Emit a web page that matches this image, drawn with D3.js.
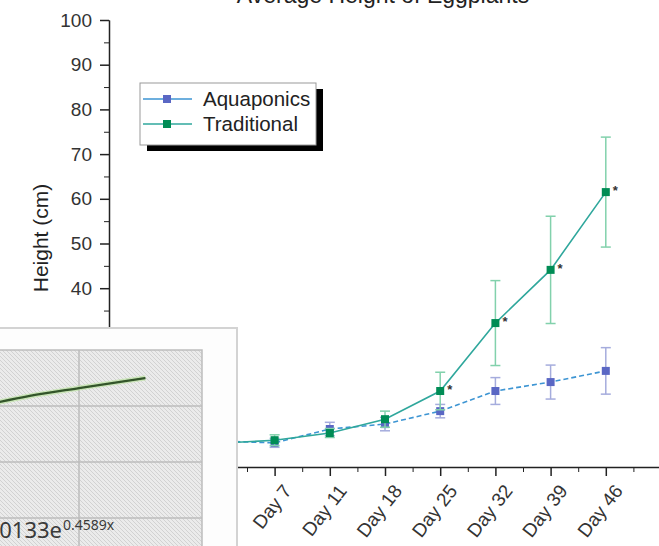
<!DOCTYPE html>
<html lang="en">
<head>
    <meta charset="UTF-8">
    <title>Average Height of Eggplants</title>
    <script src="https://cdn.jsdelivr.net/npm/d3@7"></script>
    <style>
        body {
            margin: 0;
            background-color: white;
            font-family: "Liberation Sans", Arial, sans-serif;
        }
        svg { display: block; }
        .tick text { fill: #333; }
        .axis path, .axis line { stroke: #222; }
    </style>
</head>
<body>
    <svg id="main" width="659" height="546"></svg>

    <script>
        // ---- data ----
        let days = ["Day 4", "Day 7", "Day 11", "Day 18", "Day 25", "Day 32", "Day 39", "Day 46"];
        let dayIndex = [-1, 0, 1, 2, 3, 4, 5, 6];
        let aquaMean = [5.8, 5.4, 8.5, 9.6, 12.5, 17.0, 19.0, 21.5];
        let aquaErr = [0.8, 1.0, 1.5, 1.5, 1.5, 3.0, 3.8, 5.2];
        let tradMean = [5.3, 6.0, 7.6, 10.7, 17.0, 32.2, 44.1, 61.5];
        let tradErr = [0.8, 1.2, 1.0, 1.8, 4.2, 9.5, 12.0, 12.3];
        let signif = ["", "", "", "", "*", "*", "*", "*"];
        let yTicks = [40, 50, 60, 70, 80, 90, 100];

        // pasted excel screenshot on top (trendline part)
        let insetX = [4.2, 4.6, 5.0, 5.54];
        let insetY = [0.300, 0.318, 0.332, 0.350];
        let insetGridX = [5];
        let insetGridY = [0.1, 0.2, 0.3];

        let svg = d3.select("#main");

        let x = d3.scaleLinear().domain([-3, 7]).range([109, 661]);
        let y = d3.scaleLinear().domain([0, 100]).range([467, 20]);

        // title (mostly cut off at the top)
        svg.append("text")
            .attr("x", 383).attr("y", 3)
            .attr("text-anchor", "middle")
            .attr("font-size", 23)
            .attr("fill", "#222")
            .text("Average Height of Eggplants");

        // y axis
        let minorY = d3.range(5, 100, 10);
        svg.append("g").attr("class", "axis")
            .attr("transform", "translate(109,0)")
            .call(d3.axisLeft(y).tickValues(minorY).tickSize(5).tickFormat("").tickSizeOuter(0));
        let yAxis = svg.append("g").attr("class", "axis")
            .attr("transform", "translate(109,0)")
            .call(d3.axisLeft(y).tickValues(d3.range(0, 101, 10)).tickSize(9).tickPadding(8).tickSizeOuter(0)
                .tickFormat(d => yTicks.includes(d) ? d : ""));
        yAxis.selectAll("path").attr("stroke-width", 1.5);
        yAxis.selectAll("line").attr("stroke-width", 1.5);
        yAxis.selectAll("text").attr("font-size", 19).attr("font-family", "Liberation Sans, Arial");

        svg.append("text")
            .attr("transform", "translate(48,238) rotate(-90)")
            .attr("text-anchor", "middle")
            .attr("font-size", 21)
            .attr("fill", "#222")
            .text("Height (cm)");

        // x axis
        let minorX = d3.range(-2.5, 7, 1);
        svg.append("g").attr("class", "axis")
            .attr("transform", "translate(0,467)")
            .call(d3.axisBottom(x).tickValues(minorX).tickSize(5).tickFormat("").tickSizeOuter(0));
        let xAxis = svg.append("g").attr("class", "axis")
            .attr("transform", "translate(0,467)")
            .call(d3.axisBottom(x).tickValues(d3.range(-2, 8)).tickSize(9).tickSizeOuter(0)
                .tickFormat(d => dayIndex.includes(d) ? days[dayIndex.indexOf(d)] : ""));
        xAxis.selectAll("path").attr("stroke-width", 1.5);
        xAxis.selectAll("line").attr("stroke-width", 1.5);
        xAxis.selectAll("text")
            .attr("font-size", 19)
            .attr("text-anchor", "end")
            .attr("dy", "0.7em")
            .attr("transform", "translate(7,16) rotate(-52)")
            .attr("y", 0).attr("x", 0);

        // series
        let series = [
            {name: "Aquaponics", mean: aquaMean, err: aquaErr, line: "#3d95d3", mark: "#5a67c4", errc: "#a5acdd", dash: "5,3"},
            {name: "Traditional", mean: tradMean, err: tradErr, line: "#2fa79c", mark: "#008c55", errc: "#82d1ac", dash: null}
        ];

        series.forEach(function (s) {
            let pts = dayIndex.map((d, i) => ({i: d, v: s.mean[i], e: s.err[i]}));
            let g = svg.append("g");
            // error bars
            let eb = g.selectAll(".eb").data(pts).enter().append("g").attr("stroke", s.errc).attr("stroke-width", 1.5);
            eb.append("line").attr("x1", d => x(d.i)).attr("x2", d => x(d.i))
                .attr("y1", d => y(d.v + d.e)).attr("y2", d => y(d.v - d.e));
            eb.append("line").attr("x1", d => x(d.i) - 5).attr("x2", d => x(d.i) + 5)
                .attr("y1", d => y(d.v + d.e)).attr("y2", d => y(d.v + d.e));
            eb.append("line").attr("x1", d => x(d.i) - 5).attr("x2", d => x(d.i) + 5)
                .attr("y1", d => y(d.v - d.e)).attr("y2", d => y(d.v - d.e));
            // line
            g.append("path")
                .datum(pts)
                .attr("fill", "none")
                .attr("stroke", s.line)
                .attr("stroke-width", 1.6)
                .attr("stroke-dasharray", s.dash)
                .attr("d", d3.line().x(d => x(d.i)).y(d => y(d.v)));
            // markers
            g.selectAll(".m").data(pts).enter().append("rect")
                .attr("x", d => x(d.i) - 4).attr("y", d => y(d.v) - 4)
                .attr("width", 8).attr("height", 8)
                .attr("fill", s.mark);
        });

        // significance stars
        svg.selectAll(".star").data(dayIndex.map((d, i) => ({i: d, v: tradMean[i], s: signif[i]})).filter(d => d.s))
            .enter().append("text")
            .attr("x", d => x(d.i) + 7)
            .attr("y", d => y(d.v) + 3)
            .attr("font-size", 13)
            .attr("font-weight", "bold")
            .attr("fill", "#333")
            .text(d => d.s);

        // legend
        let leg = svg.append("g").attr("transform", "translate(140,83)");
        leg.append("rect").attr("x", 7).attr("y", 6).attr("width", 176).attr("height", 62).attr("fill", "#000");
        leg.append("rect").attr("x", 0).attr("y", 0).attr("width", 176).attr("height", 62)
            .attr("fill", "white").attr("stroke", "#999").attr("stroke-width", 1);
        series.forEach(function (s, i) {
            let ly = 16 + i * 25;
            leg.append("line").attr("x1", 3).attr("x2", 52).attr("y1", ly).attr("y2", ly)
                .attr("stroke", s.line).attr("stroke-width", 1.3);
            leg.append("rect").attr("x", 23).attr("y", ly - 4).attr("width", 8).attr("height", 8).attr("fill", s.mark);
            leg.append("text").attr("x", 63).attr("y", ly).attr("dy", "0.35em")
                .attr("font-size", 20.5).attr("fill", "#222").text(s.name);
        });

        // ---- pasted excel screenshot overlapping the lower left ----
        let defs = svg.append("defs");
        let pat = defs.append("pattern").attr("id", "hatch")
            .attr("patternUnits", "userSpaceOnUse").attr("width", 4).attr("height", 4);
        pat.append("rect").attr("width", 4).attr("height", 4).attr("fill", "#ebebeb");
        pat.append("path").attr("d", "M-1,-1 L5,5 M-1,3 L1,5 M3,-1 L5,1")
            .attr("stroke", "#cfcfcf").attr("stroke-width", 0.9);

        let inset = svg.append("g");
        inset.append("rect").attr("x", -5).attr("y", 328).attr("width", 242).attr("height", 230)
            .attr("fill", "#fdfdfd").attr("stroke", "#d3d3d3").attr("stroke-width", 2);

        let ix = d3.scaleLinear().domain([4, 6]).range([-44, 202]);
        let iy = d3.scaleLinear().domain([0, 0.4]).range([574, 350]);

        inset.append("rect").attr("x", -5).attr("y", iy(0.4)).attr("width", ix(6) + 5).attr("height", 250)
            .attr("fill", "url(#hatch)").attr("stroke", "#bdbdbd").attr("stroke-width", 1.5);
        inset.selectAll(".gx").data(insetGridX).enter().append("line")
            .attr("x1", d => ix(d)).attr("x2", d => ix(d)).attr("y1", iy(0.4)).attr("y2", 560)
            .attr("stroke", "#bdbdbd").attr("stroke-width", 1.5);
        inset.selectAll(".gy").data(insetGridY).enter().append("line")
            .attr("x1", -5).attr("x2", ix(6)).attr("y1", d => iy(d)).attr("y2", d => iy(d))
            .attr("stroke", "#bdbdbd").attr("stroke-width", 1.5);

        let trend = insetX.map((v, i) => [ix(v), iy(insetY[i])]);
        inset.append("path").attr("d", d3.line().curve(d3.curveMonotoneX)(trend))
            .attr("fill", "none").attr("stroke", "#b7e39a").attr("stroke-width", 5).attr("opacity", 0.6);
        inset.append("path").attr("d", d3.line().curve(d3.curveMonotoneX)(trend))
            .attr("fill", "none").attr("stroke", "#33552a").attr("stroke-width", 2.2);

        inset.append("text").attr("x", 62).attr("y", 538).attr("text-anchor", "end")
            .attr("font-family", "Noto Sans, Open Sans, sans-serif").attr("font-size", 22).attr("fill", "#3a3a3a")
            .text("y = 0.0133e");
        inset.append("text").attr("x", 63).attr("y", 530)
            .attr("font-family", "Noto Sans, Open Sans, sans-serif").attr("font-size", 14).attr("fill", "#3a3a3a")
            .text("0.4589x");
    </script>
</body>
</html>
